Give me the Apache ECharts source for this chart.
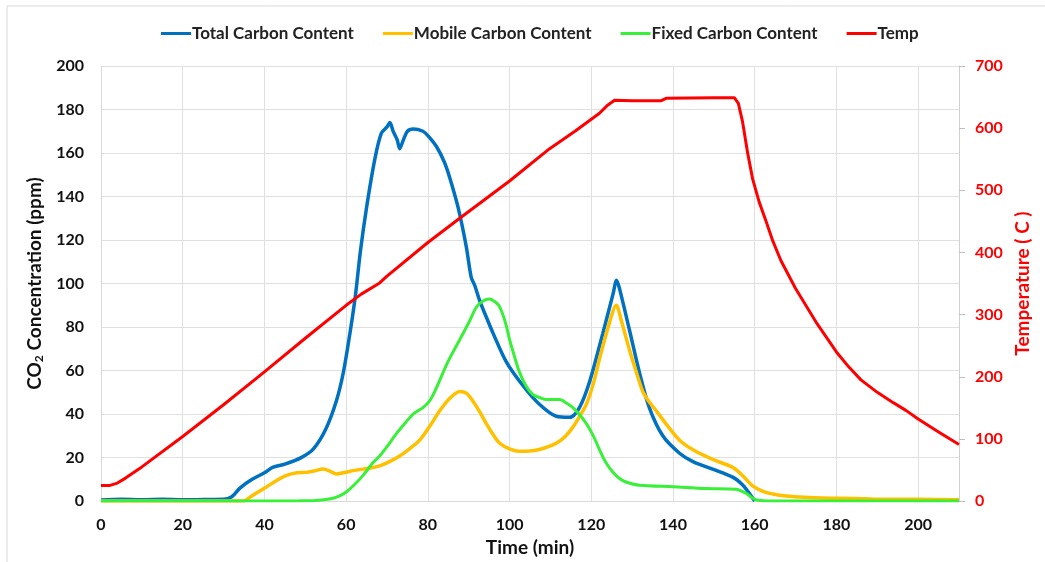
<!DOCTYPE html>
<html>
<head>
<meta charset="utf-8">
<script src="https://cdn.jsdelivr.net/npm/echarts@6/dist/echarts.min.js"></script>
<style>html,body{margin:0;padding:0;background:#fff}#c{width:1045px;height:562px}</style>
</head>
<body>
<div id="c"></div>
<script>
// ---- data ----
const seriesNames = ['Total Carbon Content', 'Mobile Carbon Content', 'Fixed Carbon Content', 'Temp'];

const totalTime = [0,5,10,15,20,25,30,32,34,37,40,42,45,49,52,55,57.6,59.3,61,62.3,63.5,65,67,68.6,70,70.7,71.5,72.5,73.1,74,75,76.4,78.8,80,82.1,84,85.3,87.4,89.4,90.6,91.5,92.7,94,96,99.2,103.3,107.3,111.4,114.7,117.1,119.6,122.8,125.3,126.2,127,129.3,131.8,134.2,137.5,141.6,145,149.7,154.6,157,158.5,160];
const totalVal  = [0.5,0.8,0.6,0.8,0.6,0.7,0.8,2,6,10,13,15.5,17,20,24,33,46,59,78,95,115,135,157,169,172,174,170,166,162,166,170,171,170,168,163,156,149,135,117,103,99,92,86,77,64,53,44.5,39,38.5,43,55,77,95,101.5,97,79,59,43,30,22,18,14.7,11,7.5,4,0];

const mobileTime = [0,34.8,37,40.5,43,45.4,48,50.3,52,54.4,56,57.6,60,61.7,64.1,66,68.2,70.5,73.1,75.5,78,80.5,82.9,85.5,87.8,89.5,91,92.7,94.3,96,97.6,100,102.4,105,107.3,109.5,111.4,113.5,115.5,117,118.8,120.5,122,124.4,126.1,127.5,129.3,130.9,132.6,134.2,135.9,138.5,141.6,145,149.7,154.6,157,159.5,162,164.4,167,171,175,180,188.8,200,210];
const mobileVal  = [0,0,2.5,6.5,9.5,11.8,13,13.2,13.8,14.7,13.8,12.5,13.3,14,14.7,15.2,16.2,18,20.7,24,28,34.5,41.5,47.5,50.4,49.5,46,41,35.6,30.5,26.6,24,22.9,23,23.7,25,26.6,29.5,34,38.5,44.5,54,65.3,81.7,90,82,69.8,60,50.4,45.5,41.5,35,28,23.5,19.2,15.5,11.8,7,4.5,3.3,2.5,1.9,1.5,1.3,1.0,0.8,0.6];

const fixedTime = [0,40,48,52,54.5,56.8,58.5,60.1,62,64.1,66.6,68.2,70,72.3,74.5,76.4,78.8,80.4,81.7,84.5,86,87.8,90,91.9,93.5,95.1,96.5,97.6,99,100,101.2,102.4,104,105.7,107.5,109,112.2,114,115.5,117,118.8,120.5,122,123.5,125.3,127,128.5,131.8,140,148,155.4,157.9,159,160.3,162,164.4,210];
const fixedVal  = [0,0,0.1,0.2,0.6,1.3,2.5,4.3,7.5,11.7,17.7,20.7,25,31,36,40,43,46,50.4,62.4,68,74.2,82,89.2,92,92.9,91.5,89.2,82,74.2,66.5,59.4,53,49,47.5,46.7,46.7,45,43,40,35.6,30,23.7,18,13.3,10.3,8.8,7.3,6.6,5.8,5.5,3.6,2,0.6,0.2,0,0];

const tempTime = [0,2,4,6,10,20,30,40,50,60,63.7,68.2,70,80,87.8,100,109.8,116,122,124,125.7,130,137,138.3,150,155,155.4,156,157,158.3,159.5,161.1,162.8,164.4,166.4,170,175,180,183,186,190,194,197,200,205,210];
const tempVal  = [25,25,29,37,55,104,155,208,262,315,333,351,362,416,455,515,567,595,624,637,645,644,644,648,649,649,648,640,611,559,518,481,450,419,387,342,288,240,216,195,175,158,146,132,111,91];

const xTicks = [0,20,40,60,80,100,120,140,160,180,200];
const leftTicks = [0,20,40,60,80,100,120,140,160,180,200];
const rightTicks = [0,100,200,300,400,500,600,700];

function pairs(t, v) { return t.map((x, i) => [x, v[i]]); }

const FONT = 'Lato';
const chart = echarts.init(document.getElementById('c'), null, {renderer: 'canvas'});
chart.setOption({
  backgroundColor: '#fff',
  animation: false,
  textStyle: {fontFamily: FONT},
  graphic: [{
    type: 'rect', shape: {x: 7, y: 6, width: 1100, height: 700},
    style: {fill: 'none', stroke: '#d9d9d9', lineWidth: 1}, silent: true
  }],
  legend: {
    top: 20, left: 156,
    icon: 'rect', itemWidth: 30, itemHeight: 3, itemGap: 29,
    textStyle: {fontFamily: FONT, fontWeight: 'bold', fontSize: 17, color: '#222', padding: [0,0,0,-4]},
    data: seriesNames
  },
  grid: {left: 101, right: 86, top: 66, bottom: 49, containLabel: false},
  xAxis: {
    type: 'value', min: 0, max: 210, interval: 20,
    name: 'Time (min)', nameLocation: 'middle', nameGap: 29,
    nameTextStyle: {fontFamily: FONT, fontWeight: 'bold', fontSize: 19, color: '#111'},
    axisLine: {show: true, lineStyle: {color: '#d9d9d9'}},
    axisTick: {show: false},
    axisLabel: {fontFamily: FONT, fontWeight: 'bold', fontSize: 16, color: '#111', margin: 16, showMaxLabel: false,
      formatter: v => xTicks.includes(v) ? String(v) : ''},
    splitLine: {show: true, lineStyle: {color: '#e0e0e0', width: 1}}
  },
  yAxis: [{
    type: 'value', min: 0, max: 200, interval: 20, position: 'left',
    name: '{a|CO}{s|2}{a| Concentration (ppm)}', nameLocation: 'middle', nameGap: 49, nameRotate: 90,
    nameTextStyle: {rich: {
      a: {fontFamily: FONT, fontWeight: 'bold', fontSize: 19, color: '#111'},
      s: {fontFamily: FONT, fontWeight: 'bold', fontSize: 12, color: '#111', padding: [9,0,0,0]}
    }},
    axisLine: {show: true, lineStyle: {color: '#d9d9d9'}},
    axisTick: {show: false},
    axisLabel: {fontFamily: FONT, fontWeight: 'bold', fontSize: 16, color: '#111', margin: 17,
      formatter: v => leftTicks.includes(v) ? String(v) : ''},
    splitLine: {show: true, lineStyle: {color: '#e0e0e0', width: 1}}
  }, {
    type: 'value', min: 0, max: 700, interval: 100, position: 'right',
    name: 'Temperature ( C )', nameLocation: 'middle', nameGap: 53, nameRotate: 90,
    nameTextStyle: {fontFamily: FONT, fontWeight: 'bold', fontSize: 19, color: '#ff0000'},
    axisLine: {show: true, lineStyle: {color: '#d0d0d0'}},
    axisTick: {show: true, length: 6, lineStyle: {color: '#c0c0c0'}},
    axisLabel: {fontFamily: FONT, fontWeight: 'bold', fontSize: 16, color: '#ff0000', margin: 16,
      formatter: v => rightTicks.includes(v) ? String(v) : ''},
    splitLine: {show: false}
  }],
  series: [{
    name: seriesNames[0], type: 'line', yAxisIndex: 0, showSymbol: false,
    smooth: 0.3,
    lineStyle: {color: '#0070C0', width: 3.5}, itemStyle: {color: '#0070C0'},
    data: pairs(totalTime, totalVal)
  }, {
    name: seriesNames[1], type: 'line', yAxisIndex: 0, showSymbol: false,
    smooth: 0.3,
    lineStyle: {color: '#FFC000', width: 3.5}, itemStyle: {color: '#FFC000'},
    data: pairs(mobileTime, mobileVal)
  }, {
    name: seriesNames[2], type: 'line', yAxisIndex: 0, showSymbol: false,
    smooth: 0.3,
    lineStyle: {color: '#38F038', width: 3}, itemStyle: {color: '#38F038'},
    data: pairs(fixedTime, fixedVal)
  }, {
    name: seriesNames[3], type: 'line', yAxisIndex: 1, showSymbol: false,
    smooth: false,
    lineStyle: {color: '#FF0000', width: 3, join: 'round'}, itemStyle: {color: '#FF0000'},
    data: pairs(tempTime, tempVal)
  }]
});
</script>
</body>
</html>
